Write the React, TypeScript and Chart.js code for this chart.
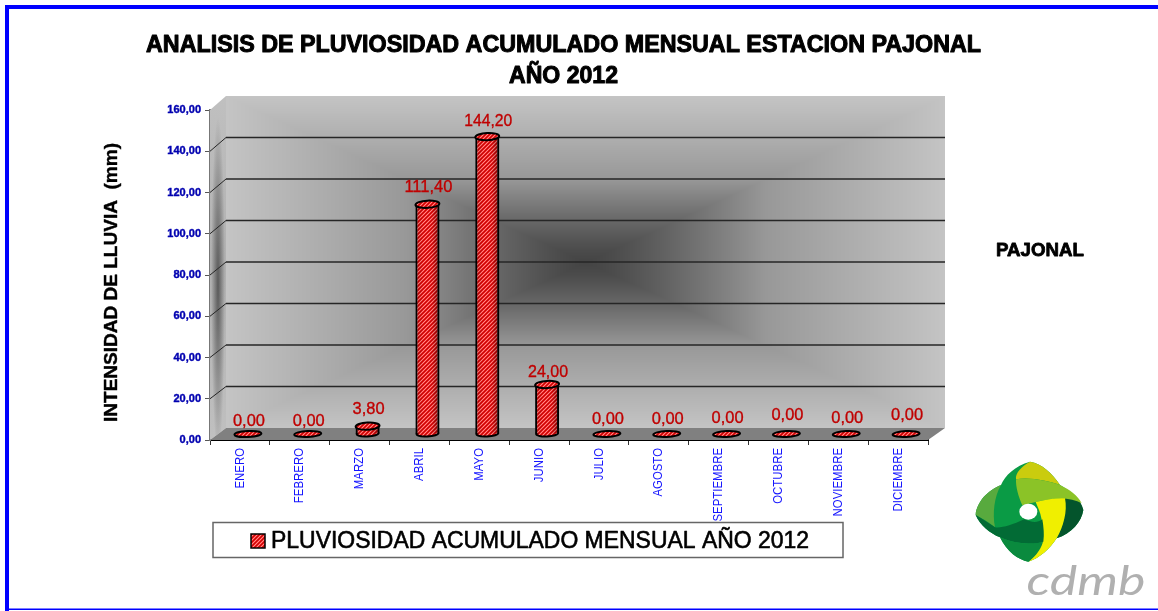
import React, { useEffect, useRef } from "react";
import Chart from "chart.js/auto";

const months = ["ENERO", "FEBRERO", "MARZO", "ABRIL", "MAYO", "JUNIO", "JULIO", "AGOSTO", "SEPTIEMBRE", "OCTUBRE", "NOVIEMBRE", "DICIEMBRE"];
const rainfall = [0, 0, 3.8, 111.4, 144.2, 24, 0, 0, 0, 0, 0, 0];
const labelGaps = [14, 14, 18, 18, 17, 13.5, 16, 16, 17, 20, 17, 20];
const titleLines = ["ANALISIS DE PLUVIOSIDAD ACUMULADO MENSUAL ESTACION PAJONAL", "AÑO 2012"];
const yTitle = "INTENSIDAD DE LLUVIA  (mm)";
const seriesName = "PLUVIOSIDAD ACUMULADO MENSUAL AÑO 2012";
const stationName = "PAJONAL";
const brandName = "cdmb";

const SANS = '"Liberation Sans", Arial, sans-serif';
const DX = 16;
const BACK_TOP = 14;
const BACK_BOTTOM = 12;
const BAR_DX = 8;
const BAR_DY = -6;

function fitText(ctx: CanvasRenderingContext2D, text: string, cx: number, cy: number, width: number, font: string, color: string, smear = 0) {
  ctx.save();
  ctx.filter = "blur(0.3px)";
  ctx.font = font;
  ctx.textAlign = "center";
  ctx.textBaseline = "middle";
  const w = ctx.measureText(text).width;
  ctx.translate(cx, cy + 1.5);
  ctx.scale(width / w, 1);
  ctx.fillStyle = color;
  ctx.fillText(text, 0, 0);
  if (smear) {
    ctx.strokeStyle = color;
    ctx.lineWidth = smear;
    ctx.lineJoin = "round";
    ctx.strokeText(text, 0, 0);
  }
  ctx.restore();
}

function makeHatch(): CanvasPattern {
  const c = document.createElement("canvas");
  c.width = 4;
  c.height = 4;
  const g = c.getContext("2d")!;
  g.fillStyle = "#f02020";
  g.fillRect(0, 0, 4, 4);
  g.fillStyle = "#ff8a8a";
  [[3, 0], [2, 1], [1, 2], [0, 3]].forEach(([x, y]) => g.fillRect(x, y, 1, 1));
  g.fillStyle = "#c40808";
  [[1, 0], [0, 1], [3, 2], [2, 3]].forEach(([x, y]) => g.fillRect(x, y, 1, 1));
  return g.createPattern(c, "repeat")!;
}

// Rectangular "from centre" shading of the back wall.
function wallShade(w: number, h: number): HTMLCanvasElement {
  const c = document.createElement("canvas");
  c.width = w;
  c.height = h;
  const g = c.getContext("2d")!;
  const img = g.createImageData(w, h);
  for (let j = 0; j < h; j++) {
    for (let i = 0; i < w; i++) {
      const t = Math.max(Math.abs(i - w / 2) / (w / 2), Math.abs(j - h / 2) / (h / 2));
      const v = t < 0.5 ? 68 + Math.pow(t / 0.5, 1.25) * 84 : 152 + ((t - 0.5) / 0.5) * 44;
      const o = (j * w + i) * 4;
      img.data[o] = img.data[o + 1] = img.data[o + 2] = v;
      img.data[o + 3] = 255;
    }
  }
  g.putImageData(img, 0, 0);
  return c;
}

const wallPlugin = {
  id: "wall",
  afterLayout(chart: any) {
    const x = chart.scales.x;
    if (x.__condensed) return;
    x.__condensed = true;
    const original = x.drawLabels.bind(x);
    x.drawLabels = (area: any) => {
      const ctx = chart.ctx;
      const anchor = chart.chartArea.bottom + 8;
      ctx.save();
      ctx.translate(0, anchor);
      ctx.scale(1, 0.845);
      ctx.translate(0, -anchor);
      original(area);
      ctx.restore();
    };
  },
  beforeDatasetsDraw(chart: any) {
    const { ctx, chartArea: a, scales } = chart;
    const L = a.left, R = a.right, T = a.top, B = a.bottom;
    const wL = L + DX, wR = R + DX + 1, wT = T - BACK_TOP, wB = B - BACK_BOTTOM;
    ctx.save();
    ctx.drawImage(wallShade(wR - wL, wB - wT), wL, wT);

    // side wall
    const side = ctx.createLinearGradient(0, wT, 0, B);
    side.addColorStop(0, "#c0c0c0");
    side.addColorStop(0.5, "#b0b0b0");
    side.addColorStop(1, "#c0c0c0");
    ctx.fillStyle = side;
    ctx.beginPath();
    ctx.moveTo(L, T); ctx.lineTo(wL, wT); ctx.lineTo(wL, wB); ctx.lineTo(L, B);
    ctx.closePath();
    ctx.fill();
    ctx.save();
    ctx.clip();
    ctx.translate(L + 8, (T + B) / 2 + 10);
    ctx.scale(1, 24);
    const streak = ctx.createRadialGradient(0, 0, 0, 0, 0, 7);
    streak.addColorStop(0, "rgba(60,60,60,0.75)");
    streak.addColorStop(1, "rgba(60,60,60,0)");
    ctx.fillStyle = streak;
    ctx.fillRect(-8, -8, 16, 16);
    ctx.restore();

    // floor
    ctx.fillStyle = "#808080";
    ctx.beginPath();
    ctx.moveTo(L, B); ctx.lineTo(wL, wB); ctx.lineTo(wR, wB); ctx.lineTo(R, B);
    ctx.closePath();
    ctx.fill();

    // back-wall grid following the axis ticks
    const y = scales.y;
    y.ticks.forEach((t: any) => {
      if (t.value === 0 || t.value === 160) return;
      const py = y.getPixelForValue(t.value);
      const by = wT + ((py - T) / (B - T)) * (wB - wT);
      ctx.strokeStyle = "#262626";
      ctx.lineWidth = 1;
      ctx.beginPath();
      ctx.moveTo(L, py);
      ctx.lineTo(wL, by);
      ctx.stroke();
      ctx.lineWidth = 1.4;
      ctx.beginPath();
      ctx.moveTo(wL, by);
      ctx.lineTo(wR, by);
      ctx.stroke();
    });
    ctx.restore();

    // bar bases, then the bars themselves, share a 3D shift
    ctx.save();
    ctx.translate(BAR_DX, BAR_DY);
    const meta = chart.getDatasetMeta(0);
    meta.data.forEach((bar: any) => {
      const { x, y, base, width } = bar.getProps(["x", "y", "base", "width"], true);
      const flat = base - y <= 0.5;
      ctx.fillStyle = chart.data.datasets[0].backgroundColor;
      ctx.strokeStyle = "#000";
      ctx.lineWidth = 2;
      ctx.beginPath();
      ctx.ellipse(x, base, flat ? width / 2 + 1.5 : width / 2 - 1, 3, -0.05, 0, Math.PI * 2);
      ctx.fill();
      ctx.stroke();
    });
  },
  afterDatasetsDraw(chart: any) {
    const { ctx } = chart;
    const meta = chart.getDatasetMeta(0);
    meta.data.forEach((bar: any) => {
      const { x, y, base, width } = bar.getProps(["x", "y", "base", "width"], true);
      if (base - y > 0.5) {
        const g = ctx.createLinearGradient(x - width / 2, 0, x + width / 2, 0);
        g.addColorStop(0, "rgba(0,0,0,0.18)");
        g.addColorStop(0.35, "rgba(0,0,0,0)");
        g.addColorStop(0.7, "rgba(0,0,0,0.03)");
        g.addColorStop(1, "rgba(0,0,0,0.4)");
        ctx.fillStyle = g;
        ctx.fillRect(x - width / 2, y, width, base - y);
        ctx.fillStyle = chart.data.datasets[0].backgroundColor;
        ctx.strokeStyle = "#000";
        ctx.lineWidth = 2;
        ctx.beginPath();
        ctx.ellipse(x, y, width / 2, 3.6, -0.05, 0, Math.PI * 2);
        ctx.fill();
        ctx.stroke();
      }
    });
    ctx.restore();

    // value labels
    const vals = chart.data.datasets[0].data as number[];
    meta.data.forEach((bar: any, i: number) => {
      const { x, y } = bar.getProps(["x", "y"], true);
      const text = vals[i].toFixed(2).replace(".", ",");
      fitText(ctx, text, x + BAR_DX + 1, y + BAR_DY - labelGaps[i], text.length * 8, `17px ${SANS}`, "#c00000", 0.35);
    });
  },
  afterDraw(chart: any) {
    const { ctx, width, height } = chart;
    // page frame
    ctx.fillStyle = "#0000ff";
    ctx.fillRect(5, 5, width - 5, 4);
    ctx.fillRect(5, 5, 4, height - 5);
    ctx.fillRect(5, height - 2.5, width - 5, 1.5);

    // titles
    fitText(ctx, titleLines[0], 563.5, 44, 835, `bold 23.5px ${SANS}`, "#000", 1);
    fitText(ctx, titleLines[1], 563.5, 75, 109, `bold 23.5px ${SANS}`, "#000", 1);
    fitText(ctx, stationName, 1040, 249, 88, `bold 18.5px ${SANS}`, "#000", 0.8);

    ctx.save();
    ctx.translate(110, 282.5);
    ctx.rotate(-Math.PI / 2);
    fitText(ctx, yTitle, 0, 0, 279, `bold 19px ${SANS}`, "#000", 0.4);
    ctx.restore();

    // legend
    ctx.fillStyle = "#fff";
    ctx.fillRect(213, 522.5, 630, 35);
    ctx.strokeStyle = "#666";
    ctx.lineWidth = 1.5;
    ctx.strokeRect(213, 522.5, 630, 35);
    ctx.fillStyle = chart.data.datasets[0].backgroundColor;
    ctx.fillRect(251, 534, 14, 14);
    ctx.strokeStyle = "#000";
    ctx.lineWidth = 1.5;
    ctx.strokeRect(251, 534, 14, 14);
    fitText(ctx, chart.data.datasets[0].label, 540, 540, 538, `23.5px ${SANS}`, "#000", 0.6);

    // logo
    ctx.save();
    ctx.filter = "blur(0.5px)";
    ctx.translate(965, 450);
    ctx.scale(1 / 3, 1 / 3);
    const shape = (d: string, color: string) => {
      ctx.fillStyle = color;
      ctx.fill(new Path2D(d));
    };
    shape("M195 35 C150 48 120 76 108 105 C70 120 35 155 32 195 C45 225 75 250 105 262 C125 305 160 330 190 335 C225 325 255 295 275 265 C320 250 350 215 355 180 C345 150 315 122 285 105 C262 70 230 40 195 35 Z", "#0a9b45");
    shape("M108 105 C70 120 35 155 32 195 C50 205 70 215 90 232 C82 190 88 140 108 105 Z", "#58aa3e");
    shape("M292 130 C325 125 348 150 355 180 C350 215 320 250 275 265 C295 230 308 185 292 130 Z", "#04542c");
    shape("M195 35 C230 40 262 70 285 105 C250 92 190 80 153 88 C150 70 170 48 195 35 Z", "#cacc0e");
    shape("M153 88 C190 80 250 92 285 105 C315 120 338 135 350 160 C320 142 270 140 212 156 L172 166 C160 140 152 110 153 88 Z", "#8bc327");
    shape("M212 156 C245 148 275 143 300 145 C308 185 295 230 275 265 C255 295 225 325 190 335 C220 310 238 280 234 240 C232 215 228 195 222 180 Z", "#f0ef00");
    shape("M32 195 C45 225 75 250 105 262 C150 282 200 285 235 275 C238 255 236 230 232 208 C215 222 195 215 178 208 C140 225 110 235 90 232 C70 218 50 205 32 195 Z", "#026b35");
    shape("M105 262 C150 282 200 285 234 276 C225 305 205 325 190 335 C160 330 125 305 105 262 Z", "#0a8a3e");
    ctx.fillStyle = "#fff";
    ctx.beginPath();
    ctx.ellipse(190, 185, 27, 24, 0, 0, Math.PI * 2);
    ctx.fill();
    ctx.restore();
    fitText(ctx, brandName, 1086, 580.5, 119, `italic 40px Lato, "Open Sans", sans-serif`, "#b0b0b0");
  },
};

export default function App() {
  const ref = useRef<HTMLCanvasElement>(null);
  useEffect(() => {
    const chart = new Chart(ref.current!, {
      type: "bar",
      data: {
        labels: months,
        datasets: [
          {
            label: seriesName,
            data: rainfall,
            backgroundColor: makeHatch(),
            borderColor: "#000",
            borderWidth: { left: 2, right: 2, top: 0, bottom: 0 },
            borderSkipped: false,
            barPercentage: 0.4,
            categoryPercentage: 1,
            clip: false,
          },
        ],
      },
      options: {
        responsive: false,
        animation: false,
        layout: { padding: { left: 0, top: 110, right: 230, bottom: 0 } },
        plugins: { legend: { display: false }, title: { display: false }, tooltip: { enabled: false } },
        scales: {
          x: {
            afterFit: (s: any) => { s.height = 171; },
            grid: { drawOnChartArea: false, drawTicks: true, tickLength: 5, color: "#333" },
            border: { color: "#000", width: 2 },
            ticks: {
              autoSkip: false,
              minRotation: 90,
              maxRotation: 90,
              padding: 3,
              color: "#1414ff",
              font: { family: SANS, size: 13.5 },
            },
          },
          y: {
            min: 0,
            max: 160,
            afterFit: (s: any) => { s.width = 210; },
            grid: { drawOnChartArea: false, drawTicks: true, tickLength: 5, color: "#555" },
            border: { color: "#777", width: 2 },
            ticks: {
              stepSize: 20,
              padding: 4,
              color: "#0000b0",
              textStrokeColor: "#0000b0",
              textStrokeWidth: 0.4,
              font: { family: SANS, size: 11, weight: "bold" },
              callback: (v: any) => Number(v).toFixed(2).replace(".", ","),
            },
          },
        },
      },
      plugins: [wallPlugin],
    } as any);
    return () => chart.destroy();
  }, []);
  return (
    <canvas
      ref={ref}
      width={1158}
      height={611}
      style={{ position: "fixed", left: 0, top: 0, width: 1158, height: 611, display: "block", background: "#fff" }}
    />
  );
}
